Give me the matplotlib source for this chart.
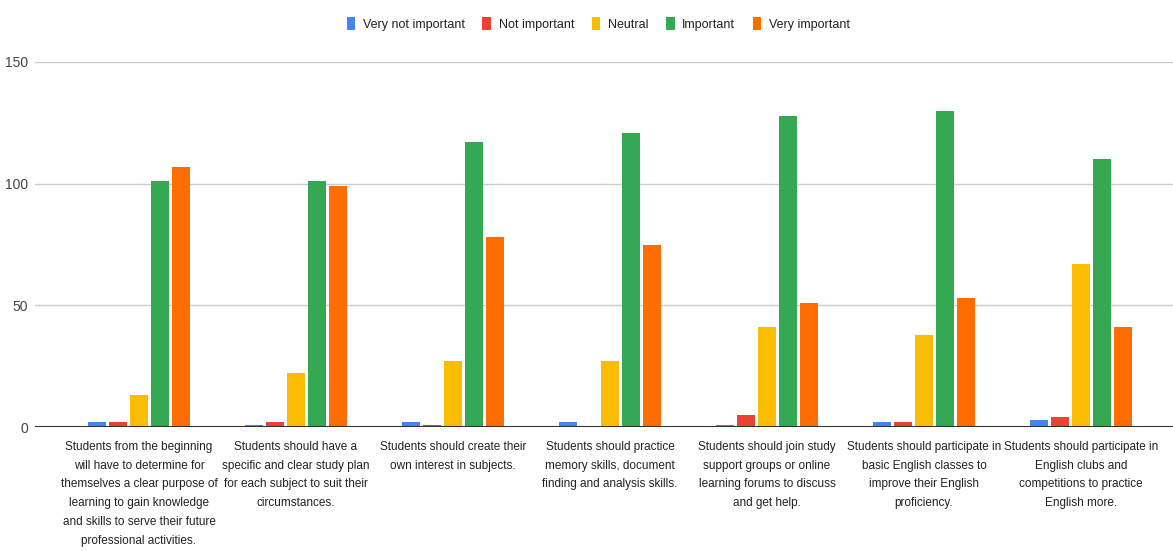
import matplotlib.pyplot as plt
import numpy as np

plt.rcParams['font.family'] = ['Liberation Sans', 'DejaVu Sans']

categories = [
    'Students from the beginning\nwill have to determine for\nthemselves a clear purpose of\nlearning to gain knowledge\nand skills to serve their future\nprofessional activities.',
    'Students should have a\nspecific and clear study plan\nfor each subject to suit their\ncircumstances.',
    'Students should create their\nown interest in subjects.',
    'Students should practice\nmemory skills, document\nfinding and analysis skills.',
    'Students should join study\nsupport groups or online\nlearning forums to discuss\nand get help.',
    'Students should participate in\nbasic English classes to\nimprove their English\nproficiency.',
    'Students should participate in\nEnglish clubs and\ncompetitions to practice\nEnglish more.',
]
series = ['Very not important', 'Not important', 'Neutral', 'Important', 'Very important']
very_not = [2, 1, 2, 2, 1, 2, 3]
not_imp = [2, 2, 1, 0, 5, 2, 4]
neutral = [13, 22, 27, 27, 41, 38, 67]
important = [101, 101, 117, 121, 128, 130, 110]
very_imp = [107, 99, 78, 75, 51, 53, 41]
colors = ['#4285F4', '#EA4335', '#FBBC04', '#34A853', '#FF6D01']

fig = plt.figure(figsize=(11.73, 5.51), dpi=100)
ax = fig.add_axes([35 / 1173, 0.225, 1 - 35 / 1173, 0.6625])

x = np.arange(len(categories))
step = 0.134
w = 0.117
for i, vals in enumerate([very_not, not_imp, neutral, important, very_imp]):
    ax.bar(x + (i - 2) * step, vals, w, color=colors[i], label=series[i], zorder=3)

ax.set_xlim(-0.662, 6.586)
ax.set_ylim(0, 150)
ax.set_yticks([0, 50, 100, 150])
ax.grid(axis='y', color='#cccccc', linewidth=1, zorder=0)
ax.axhline(0, color='#333333', linewidth=1.5, zorder=4)
for s in ax.spines.values():
    s.set_visible(False)
ax.tick_params(axis='y', length=0, labelsize=10, labelcolor='#444444', pad=5)
ax.tick_params(axis='x', length=0, pad=10)
ax.set_xticks(x)
ax.set_xticklabels(categories, fontsize=8.5, color='#222222', linespacing=1.75)

fig.legend(loc='upper center', bbox_to_anchor=(0.51, 0.99), ncol=5, frameon=False,
           fontsize=9, handlelength=0.7, handleheight=1.3, columnspacing=1.4,
           handletextpad=0.6, labelcolor='#222222')

fig.savefig('out.png', dpi=100)
